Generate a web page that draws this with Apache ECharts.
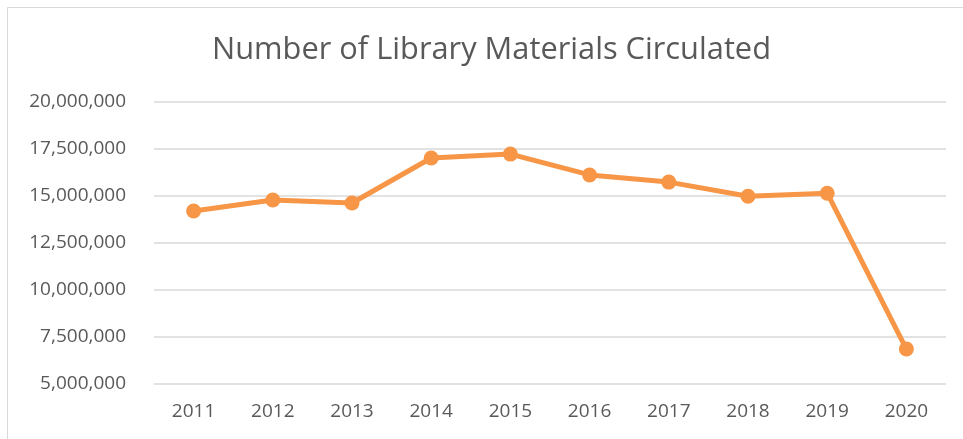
<!DOCTYPE html>
<html>
<head>
<meta charset="utf-8">
<script src="https://cdn.jsdelivr.net/npm/echarts@6/dist/echarts.min.js"></script>
<style>html,body{margin:0;padding:0;background:#fff}#c{width:963px;height:439px}</style>
</head>
<body>
<div id="c"></div>
<script>
var years = ['2011','2012','2013','2014','2015','2016','2017','2018','2019','2020'];
var circulated = [14200000, 14790000, 14630000, 17020000, 17230000, 16120000, 15740000, 14990000, 15150000, 6860000];
var yTicks = [5000000, 7500000, 10000000, 12500000, 15000000, 17500000, 20000000];

var chart = echarts.init(document.getElementById('c'));
chart.setOption({
  backgroundColor: '#fff',
  animation: false,
  title: {
    text: 'Number of Library Materials Circulated',
    left: 207, top: 30,
    textStyle: {fontFamily: 'Open Sans', fontWeight: 'normal', fontSize: 30.8, color: '#595959'}
  },
  graphic: [{
    type: 'rect', shape: {x: 7.5, y: 7.5, width: 1200, height: 1200},
    style: {fill: 'none', stroke: '#d9d9d9', lineWidth: 1}, silent: true
  }],
  grid: {left: 154, right: 17, top: 102, bottom: 55, containLabel: false},
  xAxis: {
    type: 'category', data: years, boundaryGap: true,
    axisLine: {show: false}, axisTick: {show: false},
    axisLabel: {fontFamily: 'Open Sans', fontSize: 19, color: '#595959', margin: 18}
  },
  yAxis: {
    type: 'value', min: yTicks[0], max: yTicks[yTicks.length-1], interval: 2500000,
    axisLine: {show: false}, axisTick: {show: false},
    splitLine: {lineStyle: {color: '#d9d9d9', width: 1.5}},
    axisLabel: {fontFamily: 'Open Sans', fontSize: 19, color: '#595959', margin: 28,
      formatter: function(v){ return v.toLocaleString('en-US'); }}
  },
  series: [{
    type: 'line', data: circulated,
    lineStyle: {color: '#F79646', width: 5},
    itemStyle: {color: '#F79646'},
    symbol: 'circle', symbolSize: 15
  }]
});
</script>
</body>
</html>
